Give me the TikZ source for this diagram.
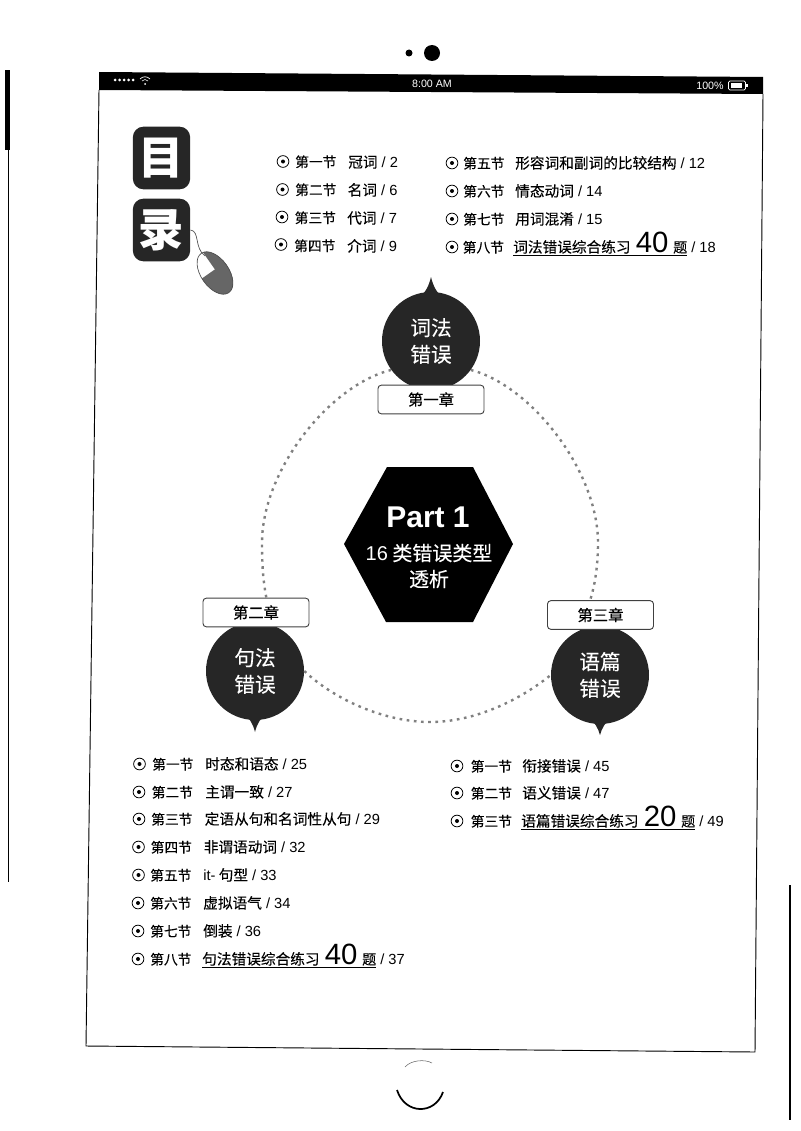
\documentclass[tikz,border=0pt]{standalone}
\usepackage{fontspec}
\setmainfont{Noto Sans CJK SC}
\newfontfamily\latf{Liberation Sans}
\newfontfamily\cnf{Noto Sans CJK SC}[FakeBold=0.2]
\usetikzlibrary{shapes.geometric}

\newcommand{\fs}[1]{\fontsize{#1}{#1}\selectfont}
\newcommand{\lat}[1]{{\latf #1}}
\newcommand{\lianxi}[3]{\underline{#1\hspace{4pt}{\latf\fs{22}#2}\hspace{3.5pt}{\fs{10.5}题}}\lat{ / #3}}

\tikzset{
  bullet/.style={circle,draw,line width=.6pt,inner sep=0pt,minimum size=8.8pt,
    path picture={\fill (path picture bounding box.center) circle (1.5pt);}},
  rowlabel/.style={anchor=base west,inner sep=0pt,font=\cnf\fs{10.3}},
  rowtext/.style={anchor=base west,inner sep=0pt,font=\cnf\fs{11}},
  ballnode/.style={circle,fill=black!85,text=white,minimum size=73.5pt,inner sep=0pt,
    align=center,font=\cnf\fontsize{15.5}{20}\selectfont},
  chapbox/.style={rectangle,rounded corners=2.5pt,draw=black!75,line width=.7pt,fill=white,
    minimum width=79.5pt,minimum height=21.5pt,inner sep=0pt,font=\cnf\fs{11.5}},
  ringline/.style={draw=black!50,line width=1.8pt,dash pattern=on 2pt off 3.4pt},
  mulubox/.style={rectangle,rounded corners=8pt,fill=black!85,text=white,
    minimum width=43pt,minimum height=47pt,inner sep=0pt,font=\bfseries\fs{34}}
}

\begin{document}
\begin{tikzpicture}[x=.75pt,y=-.75pt]
      \useasboundingbox (0,0) rectangle (800,1131);

      % page edges and tablet
      \fill (5,70) rectangle (10,150);
      \draw[line width=.7pt] (8,150) -- (8,882);
      \draw[line width=1pt] (790,885) -- (790,1120);
      \fill (409,53) circle (3.5);
      \fill (432,53) circle (8);
      \fill (99,72) -- (763,77) -- (763,94) -- (99,90) -- cycle;
      \draw[line width=.7pt] (99,90) -- (86,1046) -- (755,1052) -- (763,94);
      \draw[line width=1.3pt] (397,1090) .. controls (405,1115) and (435,1115) .. (443,1092);
      \draw[black!60,line width=.4pt] (405,1067) .. controls (411,1060) and (425,1059) .. (432,1063);

      % status bar
      \foreach \x in {115,119.5,124,128.5,133}
        \fill[white] (\x,80) circle (1.5);
      \draw[white,line width=.5pt] (140,79) .. controls (143,76) and (147,76) .. (150,79);
      \draw[white,line width=.5pt] (142,81) .. controls (144,79) and (146,79) .. (148,81);
      \fill[white] (145,84) circle (1);
      \node[text=white,font=\latf\fs{8},inner sep=0pt] (clock) at (432,84) {8:00 AM};
      \node[text=white,font=\latf\fs{8},inner sep=0pt] (percent) at (710,85.5) {100\%};
      \draw[white,line width=.5pt,rounded corners=1pt] (728.5,81) rectangle (745.5,90);
      \fill[white] (730.5,83) rectangle (742,88);
      \fill[white] (746,84) rectangle (748,87);

      % title
      \node[mulubox] (mu) at (161.5,158) {目};
      \node[mulubox] (lu) at (161.5,230) {录};

      % mouse
      \coordinate (mousetop) at (205,256);
      \draw[black!70,line width=.5pt] (lu.east) .. controls (200,231) and (194,248) .. (mousetop);
      \begin{scope}[rotate around={35:(215,273)}]
        \clip (215,273) ellipse (14 and 24);
        \fill[black!60] (217,249) rectangle (232,300);
        \fill[black!60] (195,270) rectangle (232,300);
      \end{scope}
      \draw[black!70,line width=.5pt,rotate around={35:(215,273)}] (215,273) ellipse (14 and 24);

      % ring
      \begin{scope}[every node/.style={ballnode}]
        \node (ci) at (431,341) {词法\\错误};
        \node (ju) at (255,671) {句法\\错误};
        \node (yu) at (600,675) {语篇\\错误};
      \end{scope}
      \fill[black!85] (418,298) .. controls (426,293) and (429,285) .. (431,277)
        .. controls (433,285) and (436,293) .. (444,298) -- cycle;
      \fill[black!85] (242,713) .. controls (250,718) and (253,724) .. (255,732)
        .. controls (257,724) and (260,718) .. (268,713) -- cycle;
      \fill[black!85] (587,717) .. controls (595,722) and (598,728) .. (600,735)
        .. controls (602,728) and (605,722) .. (613,717) -- cycle;

      \begin{scope}[every node/.style={chapbox}]
        \node (z1) at (431,399.5) {第一章};
        \node (z2) at (256,612.5) {第二章};
        \node (z3) at (600.5,615) {第三章};
      \end{scope}

      \draw[ringline] (ci.216) .. controls (330,385) and (262,470) .. (262,543)
        .. controls (262,565) and (263,580) .. (z2.55);
      \draw[ringline] (ci.324) .. controls (530,385) and (598,470) .. (598,543)
        .. controls (598,565) and (595,585) .. (z3.125);
      \draw[ringline] (ju.east) .. controls (335,700) and (385,722) .. (430,722)
        .. controls (475,722) and (520,700) .. (yu.west);

      % centre
      \fill (387,467) -- (473,467) -- (513,544) -- (473,622) -- (386,622) -- (344,544) -- cycle;
      \node[text=white,inner sep=0pt,font=\latf\bfseries\fs{22.5}] (part) at (428,517) {Part 1};
      \node[text=white,inner sep=0pt,font=\cnf\fs{15}] (lei) at (429,553) {\lat{16} 类错误类型};
      \node[text=white,inner sep=0pt,font=\cnf\fs{15}] (xi) at (429,579) {透析};

      % first list
      \node[bullet] (pa1) at (283,161.5) {};
      \node[bullet] (pa2) at (282.5,189.5) {};
      \node[bullet] (pa3) at (282,217) {};
      \node[bullet] (pa4) at (281,244.5) {};
      \foreach \n/\y in {5/163,6/191,7/219,8/247}
        \node[bullet] (pa\n) at (452,\y) {};
      \begin{scope}[every node/.style={rowlabel}]
        \node (sa1) at (295,167) {第一节};
        \node (sa2) at (295,195) {第二节};
        \node (sa3) at (294.5,223) {第三节};
        \node (sa4) at (294,251) {第四节};
        \node (sa5) at (463,168.5) {第五节};
        \node (sa6) at (463,196.5) {第六节};
        \node (sa7) at (463,224.5) {第七节};
        \node (sa8) at (462.5,252.5) {第八节};
      \end{scope}
      \begin{scope}[every node/.style={rowtext}]
        \node (ta1) at (348,167.5) {冠词\lat{ / 2}};
        \node (ta2) at (347.5,195.5) {名词\lat{ / 6}};
        \node (ta3) at (347,223.5) {代词\lat{ / 7}};
        \node (ta4) at (347,251.5) {介词\lat{ / 9}};
        \node (ta5) at (515,168.5) {形容词和副词的比较结构\lat{ / 12}};
        \node (ta6) at (515,196.5) {情态动词\lat{ / 14}};
        \node (ta7) at (515,224.5) {用词混淆\lat{ / 15}};
        \node (ta8) at (513,252.5) {\lianxi{词法错误综合练习}{40}{18}};
      \end{scope}

      % second list
      \node[bullet] (pb1) at (139.5,764) {};
      \node[bullet] (pb2) at (139,792) {};
      \node[bullet] (pb3) at (139,819) {};
      \node[bullet] (pb4) at (138.5,847) {};
      \node[bullet] (pb5) at (138.5,875) {};
      \node[bullet] (pb6) at (138,903) {};
      \node[bullet] (pb7) at (138,931) {};
      \node[bullet] (pb8) at (138,959) {};
      \begin{scope}[every node/.style={rowlabel}]
        \node (sb1) at (152,769.5) {第一节};
        \node (sb2) at (151.5,797.5) {第二节};
        \node (sb3) at (151,824.5) {第三节};
        \node (sb4) at (150.5,852.5) {第四节};
        \node (sb5) at (150,880.5) {第五节};
        \node (sb6) at (150,908.5) {第六节};
        \node (sb7) at (150,936.5) {第七节};
        \node (sb8) at (150,964.5) {第八节};
      \end{scope}
      \begin{scope}[every node/.style={rowtext}]
        \node (tb1) at (205,769.5) {时态和语态\lat{ / 25}};
        \node (tb2) at (205,797.5) {主谓一致\lat{ / 27}};
        \node (tb3) at (204.5,824.5) {定语从句和名词性从句\lat{ / 29}};
        \node (tb4) at (203.5,852.5) {非谓语动词\lat{ / 32}};
        \node (tb5) at (203,880.5) {\lat{it-} 句型\lat{ / 33}};
        \node (tb6) at (203,908.5) {虚拟语气\lat{ / 34}};
        \node (tb7) at (203,936.5) {倒装\lat{ / 36}};
        \node (tb8) at (202,964.5) {\lianxi{句法错误综合练习}{40}{37}};
      \end{scope}

      % third list
      \foreach \n/\y in {1/766,2/793,3/821}
        \node[bullet] (pc\n) at (457,\y) {};
      \begin{scope}[every node/.style={rowlabel}]
        \node (sc1) at (470.5,771.5) {第一节};
        \node (sc2) at (470.5,798.5) {第二节};
        \node (sc3) at (470.5,826.5) {第三节};
      \end{scope}
      \begin{scope}[every node/.style={rowtext}]
        \node (tc1) at (522,771.5) {衔接错误\lat{ / 45}};
        \node (tc2) at (522,798.5) {语义错误\lat{ / 47}};
        \node (tc3) at (521,826.5) {\lianxi{语篇错误综合练习}{20}{49}};
      \end{scope}

    \end{tikzpicture}
\end{document}
